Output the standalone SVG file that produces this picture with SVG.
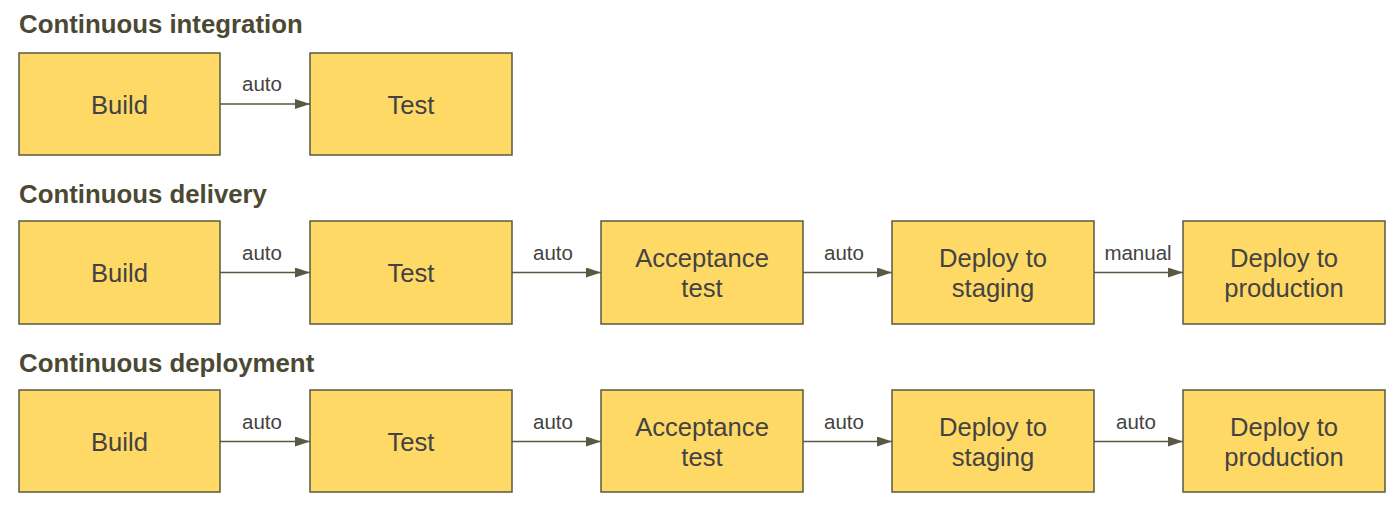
<svg xmlns="http://www.w3.org/2000/svg" width="1400" height="509" viewBox="0 0 1400 509">
<style>
.h{font-family:"Liberation Sans",Arial,sans-serif;font-weight:bold;font-size:25.8px;fill:#4b4934}
.box{fill:#ffd966;stroke:#595943;stroke-width:1.5}
.t{font-family:"Liberation Sans",Arial,sans-serif;font-size:25.6px;fill:#434343;text-anchor:middle}
.l{font-family:"Liberation Sans",Arial,sans-serif;font-size:20.5px;fill:#434343;text-anchor:middle}
.c{stroke:#595943;stroke-width:1.5;fill:none;marker-end:url(#ah)}
</style>
<defs>
<marker id="ah" markerWidth="15" markerHeight="10" refX="15" refY="5" orient="auto" markerUnits="userSpaceOnUse">
<path d="M0,0 L15,5 L0,10 Z" fill="#595943"/>
</marker>
</defs>
<rect width="1400" height="509" fill="#ffffff"/>
<text class="h" x="19" y="33">Continuous integration</text>
<text class="h" x="19" y="202.7">Continuous delivery</text>
<text class="h" x="19" y="372">Continuous deployment</text>

<g id="ci-build"><rect class="box" x="19" y="53" width="201" height="102"/><text class="t" x="119.5" y="113.5">Build</text></g>
<g id="ci-test"><rect class="box" x="310" y="53" width="202" height="102"/><text class="t" x="411" y="113.5">Test</text></g>

<g id="cd-build"><rect class="box" x="19" y="221" width="201" height="103"/><text class="t" x="119.5" y="282">Build</text></g>
<g id="cd-test"><rect class="box" x="310" y="221" width="202" height="103"/><text class="t" x="411" y="282">Test</text></g>
<g id="cd-accept"><rect class="box" x="601" y="221" width="202" height="103"/><text class="t" x="702" y="266.5">Acceptance</text><text class="t" x="702" y="296.5">test</text></g>
<g id="cd-staging"><rect class="box" x="892" y="221" width="202" height="103"/><text class="t" x="993" y="266.5">Deploy to</text><text class="t" x="993" y="296.5">staging</text></g>
<g id="cd-prod"><rect class="box" x="1183" y="221" width="202" height="103"/><text class="t" x="1284" y="266.5">Deploy to</text><text class="t" x="1284" y="296.5">production</text></g>

<g id="cdp-build"><rect class="box" x="19" y="390" width="201" height="102"/><text class="t" x="119.5" y="451">Build</text></g>
<g id="cdp-test"><rect class="box" x="310" y="390" width="202" height="102"/><text class="t" x="411" y="451">Test</text></g>
<g id="cdp-accept"><rect class="box" x="601" y="390" width="202" height="102"/><text class="t" x="702" y="435.5">Acceptance</text><text class="t" x="702" y="465.5">test</text></g>
<g id="cdp-staging"><rect class="box" x="892" y="390" width="202" height="102"/><text class="t" x="993" y="435.5">Deploy to</text><text class="t" x="993" y="465.5">staging</text></g>
<g id="cdp-prod"><rect class="box" x="1183" y="390" width="202" height="102"/><text class="t" x="1284" y="435.5">Deploy to</text><text class="t" x="1284" y="465.5">production</text></g>

<g id="connectors">
<line class="c" x1="220" y1="104" x2="310" y2="104"/>
<text class="l" x="262" y="91">auto</text>

<line class="c" x1="220" y1="272.5" x2="310" y2="272.5"/>
<text class="l" x="262" y="260">auto</text>
<line class="c" x1="512" y1="272.5" x2="601" y2="272.5"/>
<text class="l" x="553" y="260">auto</text>
<line class="c" x1="803" y1="272.5" x2="892" y2="272.5"/>
<text class="l" x="844" y="260">auto</text>
<line class="c" x1="1094" y1="272.5" x2="1183" y2="272.5"/>
<text class="l" x="1138" y="260">manual</text>

<line class="c" x1="220" y1="441.5" x2="310" y2="441.5"/>
<text class="l" x="262" y="429">auto</text>
<line class="c" x1="512" y1="441.5" x2="601" y2="441.5"/>
<text class="l" x="553" y="429">auto</text>
<line class="c" x1="803" y1="441.5" x2="892" y2="441.5"/>
<text class="l" x="844" y="429">auto</text>
<line class="c" x1="1094" y1="441.5" x2="1183" y2="441.5"/>
<text class="l" x="1136" y="429">auto</text>
</g>
</svg>
